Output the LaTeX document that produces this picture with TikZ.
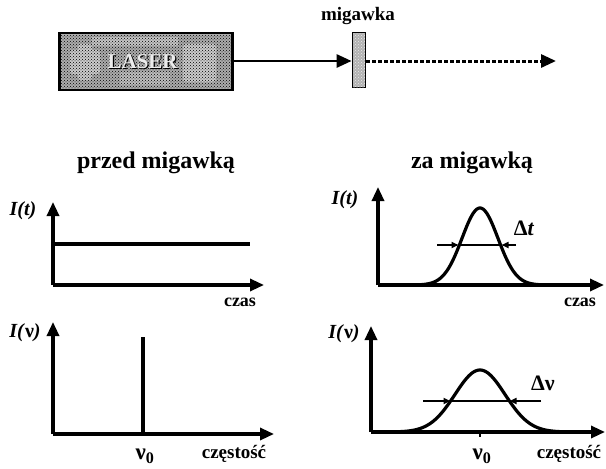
\documentclass[tikz,border=0pt]{standalone}
\usepackage{fontspec}
\setmainfont{Liberation Serif}
\usetikzlibrary{arrows.meta,patterns}
\tikzset{
  axis/.style={line width=3.2pt,-{Triangle[length=14pt,width=12pt]}},
  curve/.style={line width=3.2pt,line join=round},
  fwhm/.style={line width=1.6pt},
  fwhmtip/.style={line width=1.6pt,-{Triangle[length=7pt,width=6pt]}},
  lbl/.style={inner sep=0pt,font=\fontsize{18pt}{20pt}\selectfont\bfseries},
  axl/.style={inner sep=0pt,font=\fontsize{20pt}{22pt}\selectfont\bfseries\itshape},
  ttl/.style={inner sep=0pt,font=\fontsize{24pt}{26pt}\selectfont\bfseries},
}
\begin{document}
\begin{tikzpicture}[x=1pt,y=-1pt]
\useasboundingbox (0,0) rectangle (606,469);
% laser box
\node[draw=black,line width=2.4pt,fill=gray!65,minimum width=173pt,minimum height=57pt,inner sep=0pt] (laser) at (146,61.5) {};
\fill[gray!40,rounded corners=3pt] (70,50) rectangle (100,74);
\fill[gray!40,rounded corners=3pt] (78,44) rectangle (92,80);
\fill[gray!45] (92,37) rectangle (178,46);
\fill[gray!40,rounded corners=3pt] (183,44) rectangle (216,82);
\fill[gray!50] (120,72) rectangle (170,85);
\fill[pattern=crosshatch dots,pattern color=black] (60,35) rectangle (232,88);
\node[inner sep=0pt,text=black,font=\fontsize{21pt}{23pt}\selectfont\bfseries] (lasershadow) at (143.8,62.8) {LASER};
\node[inner sep=0pt,text=gray!15,font=\fontsize{21pt}{23pt}\selectfont\bfseries] (lasertext) at (142.6,61.6) {LASER};
% shutter
\node[draw=black,line width=1.8pt,fill=gray!60,minimum width=13pt,minimum height=55pt,inner sep=0pt] (shutter) at (359,60) {};
\fill[pattern=crosshatch dots,pattern color=gray!15] (353,33) rectangle (365,87);
\node[inner sep=0pt,font=\fontsize{19pt}{21pt}\selectfont\bfseries] (miglbl) at (358,16) {migawka};
\draw[line width=2.8pt,-{Triangle[length=15pt,width=13pt]}] (laser.east |- 0,61) -- (shutter.west |- 0,61);
\coordinate (beamend) at (556,61);
\draw[line width=3pt,dash pattern=on 4pt off 2pt,-{Triangle[length=15pt,width=13pt]}] (shutter.east |- 0,61) -- (beamend);
% titles
\node[ttl] (t1) at (156,163) {przed migawką};
\node[ttl] (t2) at (472,163) {za migawką};
% plot 1
\coordinate (o1) at (53,285);
\coordinate (y1) at (53,202);
\coordinate (x1) at (264,285);
\draw[axis] (o1) -- (y1);
\draw[axis] (o1) -- (x1);
\coordinate (c1a) at (53,244);
\coordinate (c1b) at (250,244);
\draw[curve] (c1a) -- (c1b);
\node[axl] (l1) at (23,211) {I(t)};
\node[lbl] (xl1) at (240,302) {czas};
% plot 2
\coordinate (o2) at (378,285);
\coordinate (y2) at (378,187);
\coordinate (x2) at (604,285);
\draw[axis] (o2) -- (y2);
\draw[axis] (o2) -- (x2);
\draw[curve] plot[domain=405:555,samples=120] (\x,{285-77*exp(-((\x-480)^2)/(2*18^2))});
\coordinate (d1a) at (437,245);
\coordinate (d1b) at (458.5,245);
\coordinate (d1c) at (501.5,245);
\coordinate (d1d) at (516,245);
\draw[fwhm] (d1b) -- (d1c);
\draw[fwhmtip] (d1a) -- (d1b);
\draw[fwhmtip] (d1d) -- (d1c);
\node[inner sep=0pt,font=\fontsize{22pt}{24pt}\selectfont\bfseries] (dt) at (524,228) {Δ\textit{t}};
\node[axl] (l2) at (345,200) {I(t)};
\node[lbl] (xl2) at (580,302) {czas};
% plot 3
\coordinate (o3) at (53,434);
\coordinate (y3) at (53,322);
\coordinate (x3) at (274,434);
\draw[axis] (o3) -- (y3);
\draw[axis] (o3) -- (x3);
\coordinate (v3a) at (143,434);
\coordinate (v3b) at (143,337);
\draw[curve] (v3a) -- (v3b);
\node[inner sep=0pt,font=\fontsize{23pt}{25pt}\selectfont\bfseries] (nu1) at (145,456) {ν\textsubscript{0}};
\node[axl] (l3) at (25,333) {I(\textup{ν})};
\node[lbl,font=\fontsize{19pt}{21pt}\selectfont\bfseries] (xl3) at (234,454) {częstość};
% plot 4
\coordinate (o4) at (371,432);
\coordinate (y4) at (371,326);
\coordinate (x4) at (605,432);
\draw[axis] (o4) -- (y4);
\draw[axis] (o4) -- (x4);
\draw[curve] plot[domain=390:570,samples=120] (\x,{432-62*exp(-((\x-480)^2)/(2*25^2))});
\coordinate (tk1) at (480,432);
\coordinate (tk2) at (480,437);
\draw[line width=2pt] (tk1) -- (tk2);
\coordinate (d2a) at (423,401);
\coordinate (d2b) at (450.5,401);
\coordinate (d2c) at (509.5,401);
\coordinate (d2d) at (541,401);
\draw[fwhm] (d2b) -- (d2c);
\draw[fwhmtip] (d2a) -- (d2b);
\draw[fwhmtip] (d2d) -- (d2c);
\node[inner sep=0pt,font=\fontsize{22pt}{24pt}\selectfont\bfseries] (dnu) at (543,383) {Δν};
\node[inner sep=0pt,font=\fontsize{23pt}{25pt}\selectfont\bfseries] (nu2) at (482,456) {ν\textsubscript{0}};
\node[axl] (l4) at (344,334) {I(\textup{ν})};
\node[lbl,font=\fontsize{19pt}{21pt}\selectfont\bfseries] (xl4) at (569,454) {częstość};
\end{tikzpicture}
\end{document}
